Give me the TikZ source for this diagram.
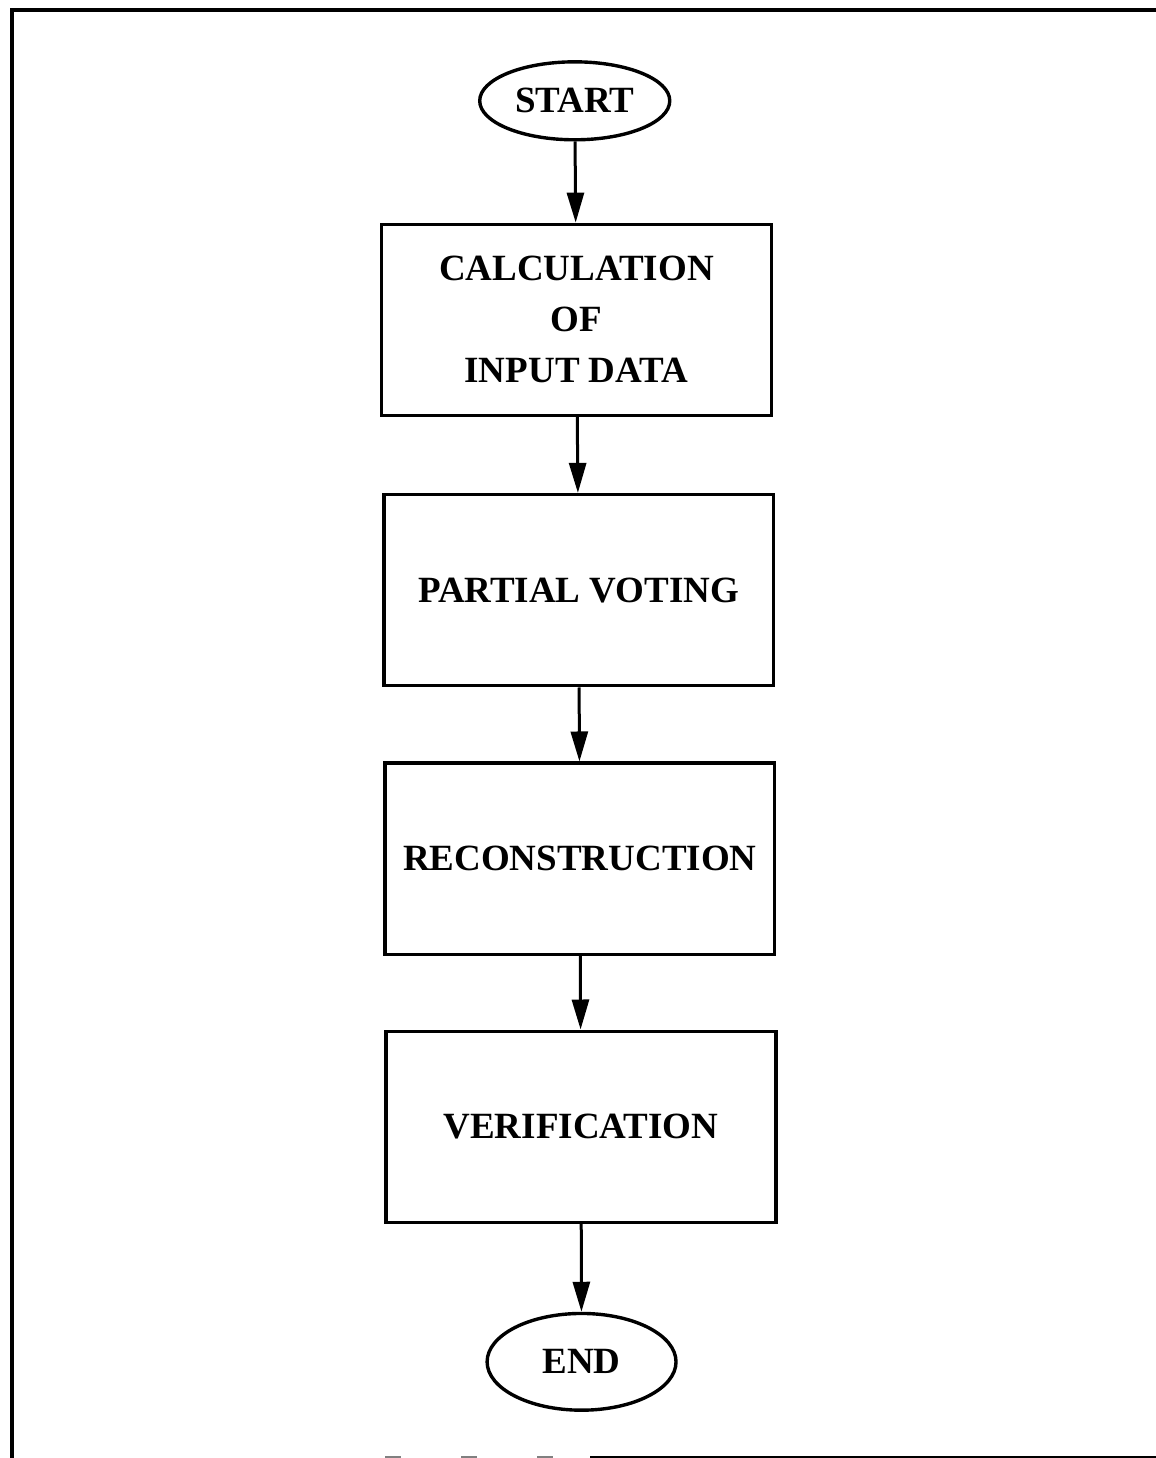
\documentclass[tikz,border=0pt]{standalone}
\usepackage{fontspec}
\setmainfont{Liberation Serif}
\usepackage{tikz}
\usetikzlibrary{positioning, shapes.geometric, arrows.meta}

\begin{document}
\begin{tikzpicture}[
  >={Triangle[length=15pt, width=8.5pt]},
  every node/.style={font=\fontsize{18.5}{25.5}\selectfont\bfseries},
  stepbox/.style={draw, line width=1.7pt, minimum width=6.85cm, minimum height=3.36cm, align=center, inner sep=2pt},
  termnode/.style={draw, ellipse, line width=1.7pt, inner sep=0pt},
  flowarrow/.style={->, line width=1.5pt}
]
\useasboundingbox (0,0) rectangle (20.314,25.622);

% Page frame -- no right edge, bottom edge only partly printed
\draw[line width=2pt] (20.314,25.446) -- (0.211,25.446) -- (0.211,0);
\draw[line width=1pt, gray, dash pattern=on 8pt off 30pt] (6.77,0.018) -- (10.37,0.018);
\draw[line width=1pt] (10.37,0.018) -- (20.314,0.018);

% Terminals
\node[termnode, minimum width=3.34cm, minimum height=1.37cm] (start) at (10.10,23.85) {START};
\node[termnode, minimum width=3.32cm, minimum height=1.70cm] (end) at (10.22,1.69) {END};

% Processing steps
\node[stepbox] (calc) at (10.13,20.00) {CALCULATION\\OF\\INPUT DATA};
\node[stepbox] (vote) at (10.17,15.25) {PARTIAL VOTING};
\node[stepbox] (recon) at (10.19,10.53) {RECONSTRUCTION};
\node[stepbox] (verif) at (10.21,5.82) {VERIFICATION};

% Flow
\draw[flowarrow] (start) -- (calc);
\draw[flowarrow] (calc) -- (vote);
\draw[flowarrow] (vote) -- (recon);
\draw[flowarrow] (recon) -- (verif);
\draw[flowarrow] (verif) -- (end);

\end{tikzpicture}
\end{document}
